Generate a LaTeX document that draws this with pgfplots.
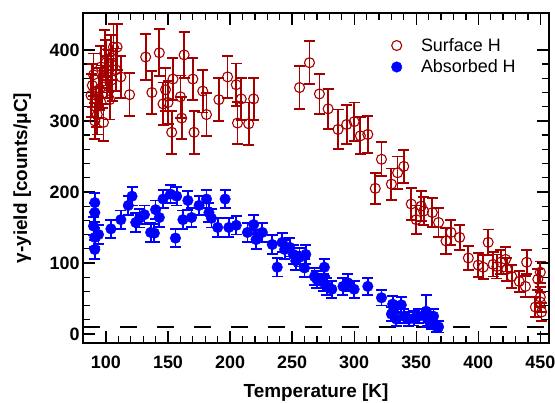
\documentclass[border=0pt]{standalone}
\usepackage{fontspec}
\setmainfont{Liberation Sans}
\usepackage{pgfplots}
\usepackage{pgfplotstable}
\pgfplotsset{compat=1.18}
\definecolor{sred}{RGB}{165,0,0}
\definecolor{ablue}{RGB}{0,0,255}

\pgfplotstableread{
T Y E
88 336 30
89 350 30
90 365 30
91 300 25
92 320 28
93 309 28
94 334 30
95 345 30
96 376 30
97 348 30
98 298 26
99 395 33
100 382 32
101 362 30
102 370 30
103 330 28
104 389 32
105 358 30
106 404 32
108 372 30
109 404 32
112 362 30
119 337 30
132 390 32
137 340 30
143 396 33
146 324 30
148 344 30
150 326 30
153 284 30
154 359 30
160 334 30
161 304 30
163 393 32
170 359 30
171 284 30
178 342 30
181 309 30
191 330 30
198 362 30
205 351 30
206 297 30
209 331 30
215 296 30
219 331 30
256 347 30
264 382 30
272 338 28
279 317 28
287 288 28
294 295 27
300 299 27
305 279 26
311 281 26
317 205 22
322 246 24
330 211 22
335 227 23
340 236 23
346 183 22
350 161 20
354 180 21
356 173 20
363 171 20
368 157 20
374 131 18
378 143 18
385 136 18
392 107 17
400 97 17
404 94 17
408 129 18
412 98 17
415 95 17
418 101 17
422 105 17
423 91 16
427 81 16
433 74 15
438 67 15
439 101 17
446 38 14
448 77 15
450 87 15
450 52 14
451 31 13
450 45 14
}\surf

\pgfplotstableread{
T Y E
91 185 13
91 171 13
90 152 13
91 136 13
91 119 13
94 140 13
104 148 13
112 161 13
118 181 13
121 194 13
124 157 13
127 163 13
131 168 13
136 143 13
139 142 13
140 175 13
143 164 13
146 190 13
152 197 13
156 135 13
157 194 13
162 161 13
166 188 13
169 164 13
175 181 13
181 190 13
183 171 13
185 163 13
190 150 13
196 190 13
199 150 13
205 153 13
214 143 13
219 154 13
221 133 13
226 143 13
234 126 13
238 94 13
242 129 13
244 119 13
248 122 13
251 112 13
253 103 13
256 108 13
260 93 13
261 112 13
268 81 12
270 77 12
276 94 12
275 73 12
278 67 12
282 63 12
291 67 12
295 72 12
300 63 12
311 67 12
322 51 11
331 42 11
330 28 10
334 21 10
332 35 10
338 41 11
340 25 10
344 21 10
348 22 10
352 25 10
358 32 23
359 21 10
362 17 10
364 25 10
366 11 8
368 10 8
}\absb

\begin{document}
\begin{tikzpicture}
\path[use as bounding box] (-83bp,-60bp) rectangle (472bp,343bp);
\begin{axis}[
  scale only axis, width=466bp, height=330bp,
  xmin=81.5, xmax=457, ymin=-12.7, ymax=452,
  xtick={100,150,...,450}, ytick={0,100,...,400},
  minor x tick num=4, minor y tick num=4,
  tick align=inside,
  major tick length=12bp, minor tick length=7bp,
  every tick/.style={black, line width=1.3bp},
  axis line style={line width=1.6bp},
  tick label style={font=\fontsize{18}{20}\selectfont\bfseries},
  x tick label style={anchor=base, yshift=-25bp},
  /pgf/number format/assume math mode=true,
  xlabel={Temperature [K]}, ylabel={γ-yield [counts/μC]},
  label style={font=\fontsize{19}{21}\selectfont\bfseries},
  x label style={at={(axis description cs:0.5,-0.166)}, anchor=base},
  y label style={at={(axis description cs:-0.12,0.5)}, anchor=base, rotate=0},
  legend style={draw=none, fill=none, at={(axis description cs:0.655,0.936)}, anchor=north west, font=\fontsize{18}{20}\selectfont, row sep=3bp},
  legend cell align=left,
  clip=true,
]
\addplot[black, line width=1.3bp, dash pattern=on 17bp off 20bp, forget plot] coordinates {(81.5,10) (457,10)};
\addplot[sred, only marks, mark=o, mark size=5bp, mark options={line width=1.1bp},
  error bars/.cd, y dir=both, y explicit,
  error bar style={line width=1.8bp},
  error mark options={rotate=90, mark size=5.5bp, line width=1.8bp}]
  table[x=T, y=Y, y error=E] {\surf};
\addlegendentry{\hspace{17bp}Surface H}
\addplot[ablue, only marks, mark=*, mark size=5.3bp, mark options={fill=ablue, draw=ablue},
  error bars/.cd, y dir=both, y explicit,
  error bar style={line width=1.8bp},
  error mark options={rotate=90, mark size=5.5bp, line width=1.8bp}]
  table[x=T, y=Y, y error=E] {\absb};
\addlegendentry{\hspace{17bp}Absorbed H}
\end{axis}
\end{tikzpicture}
\end{document}
